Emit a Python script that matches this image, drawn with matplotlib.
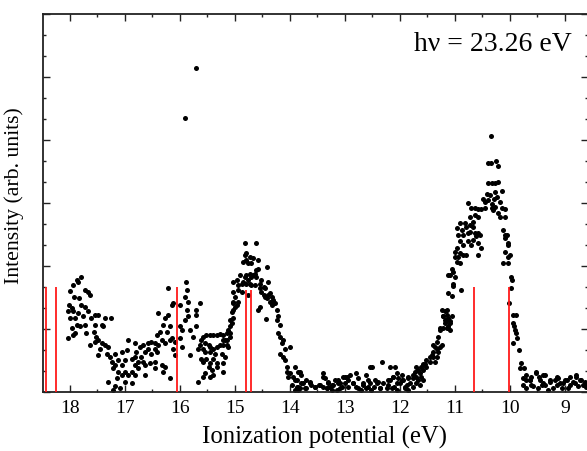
#!/usr/bin/env python3
"""Photoelectron spectrum at hv = 23.26 eV with calculated line positions."""

import matplotlib

matplotlib.use("Agg")
import matplotlib.pyplot as plt
import numpy as np
from matplotlib.ticker import MultipleLocator

# --- measured points, read off the spectrum, grouped by energy band ---
# 18.1 - 16.0 eV
ip_a = [17.79, 17.88, 17.85, 17.94, 18.00, 17.72, 17.67, 17.64, 17.92, 17.84,
        18.02, 17.97, 17.79, 17.73, 18.03, 17.94, 17.85, 17.67, 17.55, 17.49,
        18.00, 17.90, 17.76, 17.61, 17.88, 17.82, 17.97, 17.72, 17.55, 17.42,
        17.36, 17.25, 17.39, 18.03, 17.91, 17.94, 17.70, 17.56, 17.52, 17.49,
        17.64, 17.55, 17.42, 17.36, 17.30, 17.45, 17.33, 17.49, 17.27, 17.18,
        17.06, 16.94, 16.82, 16.97, 16.79, 16.73, 16.67, 16.58, 16.52, 16.46,
        16.33, 16.27, 16.18, 16.39, 16.64, 16.52, 16.42, 16.70, 16.82, 16.88,
        17.00, 17.12, 17.24, 17.18, 17.06, 17.21, 17.12, 17.00, 16.88, 16.76,
        16.64, 16.55, 16.46, 16.33, 16.27, 16.94, 16.82, 17.06, 17.15, 17.30,
        17.00, 16.88, 17.18, 17.21, 17.09, 16.64, 16.46, 16.30, 16.18, 16.39,
        16.27, 16.21, 16.15, 16.12, 16.21, 16.30, 16.18, 16.36, 16.42, 16.24,
        16.15, 16.09, 16.09, 16.12, 16.46, 16.58, 16.76, 16.82, 16.67]
int_a = [1.83, 1.78, 1.74, 1.70, 1.60, 1.62, 1.59, 1.54, 1.51, 1.49,
         1.38, 1.34, 1.38, 1.35, 1.28, 1.28, 1.25, 1.28, 1.22, 1.22,
         1.17, 1.17, 1.20, 1.17, 1.06, 1.04, 1.01, 1.06, 1.06, 1.06,
         1.17, 1.17, 1.04, 0.85, 0.93, 0.90, 0.93, 0.96, 0.88, 0.83,
         0.75, 0.80, 0.77, 0.75, 0.72, 0.69, 0.61, 0.59, 0.56, 0.61,
         0.64, 0.83, 0.77, 0.67, 0.64, 0.72, 0.75, 0.77, 0.80, 0.77,
         0.83, 0.77, 0.83, 0.75, 0.64, 0.61, 0.63, 0.56, 0.56, 0.53,
         0.51, 0.51, 0.48, 0.43, 0.43, 0.38, 0.32, 0.32, 0.32, 0.38,
         0.43, 0.46, 0.48, 0.43, 0.40, 0.27, 0.27, 0.27, 0.22, 0.16,
         0.16, 0.14, 0.09, 0.03, 0.06, 0.27, 0.38, 0.32, 0.22, 1.25,
         1.17, 1.22, 1.38, 1.41, 1.65, 1.06, 1.04, 0.96, 0.90, 0.96,
         0.85, 0.80, 0.59, 0.69, 0.69, 0.69, 0.48, 0.43, 0.48]

# 16.0 - 13.8 eV (second band, incl. the two spikes near 15.8 eV)
ip_b = [15.89, 15.88, 15.91, 15.85, 16.00, 15.88, 15.85, 15.91, 16.00, 15.97,
        15.82, 15.76, 16.00, 15.97, 15.82, 15.70, 15.64, 15.70, 15.70, 15.90,
        15.71,
        15.58, 15.52, 15.45, 15.39, 15.33, 15.27, 15.21, 15.61, 15.64, 15.55,
        15.48, 15.67, 15.58, 15.45, 15.39, 15.33, 15.27, 15.21, 15.15, 15.55,
        15.45, 15.36, 15.24, 15.18, 15.61, 15.52, 15.39, 15.58, 15.45, 15.33,
        15.21, 15.48, 15.33, 15.42, 15.55, 15.39, 15.58, 15.45, 15.67, 15.21,
        15.12, 15.09, 15.15, 15.12, 15.09, 15.06, 15.09, 15.03, 15.03, 15.00,
        14.97, 14.94, 15.03, 15.06, 15.18, 15.15,
        15.03, 14.97, 14.91, 14.94, 14.88, 14.85, 14.82, 14.79, 14.76, 14.73,
        14.70, 14.67, 14.64, 14.61, 14.58, 14.61, 14.79, 14.73, 14.70, 14.64,
        14.55, 14.52, 14.48, 14.45, 14.39, 14.42, 14.85, 14.79, 14.76, 14.73,
        14.70, 14.67, 14.58, 14.82, 14.79, 14.81, 14.62, 14.94, 14.88, 14.76,
        14.55, 14.52, 14.48, 14.45, 14.42, 14.39, 14.36, 14.33, 14.30, 14.36,
        14.33, 14.27, 14.24, 14.58, 14.55, 14.44, 14.21, 14.24, 14.18, 14.21,
        14.18, 14.12, 14.15, 14.09, 14.18, 14.12, 14.09, 14.00, 14.06, 14.06,
        14.00, 14.03, 13.94, 13.91, 13.97, 13.88, 13.85, 13.91, 13.85, 15.03,
        15.00, 15.03, 15.09, 15.21]
int_b = [1.75, 1.62, 1.51, 1.43, 1.38, 1.30, 1.20, 1.14, 1.04, 0.98,
         0.98, 0.88, 0.85, 0.72, 0.59, 1.30, 1.41, 1.22, 1.04, 4.35,
         5.14,
         0.88, 0.90, 0.90, 0.90, 0.90, 0.92, 0.90, 0.83, 0.75, 0.77,
         0.75, 0.69, 0.69, 0.72, 0.69, 0.72, 0.75, 0.75, 0.83, 0.64,
         0.64, 0.61, 0.61, 0.56, 0.53, 0.53, 0.53, 0.48, 0.46, 0.46,
         0.46, 0.40, 0.40, 0.35, 0.30, 0.27, 0.24, 0.24, 0.16, 0.32,
         0.72, 0.88, 0.93, 0.98, 1.04, 1.09, 1.14, 1.17, 1.30, 1.35,
         1.38, 1.43, 1.43, 1.27, 0.83, 0.75,
         1.75, 1.78, 1.86, 1.70, 1.72, 1.75, 1.83, 1.86, 1.78, 1.88,
         1.83, 1.86, 1.88, 1.94, 1.96, 1.83, 1.72, 1.72, 1.70, 1.70,
         1.72, 1.78, 1.67, 1.65, 1.75, 1.99, 2.07, 2.10, 2.04, 2.15,
         2.04, 2.12, 2.10, 2.17, 2.20, 2.37, 2.37, 1.62, 1.59, 1.54,
         1.65, 1.59, 1.54, 1.51, 1.49, 1.54, 1.57, 1.51, 1.46, 1.43,
         1.38, 1.41, 1.30, 1.30, 1.35, 1.16, 1.20, 1.14, 1.06, 0.93,
         0.88, 0.83, 0.77, 0.69, 0.61, 0.56, 0.51, 0.72, 0.40, 0.32,
         0.30, 0.24, 0.24, 0.19, 0.11, 0.08, 0.03, 0.40, 0.32, 1.59,
         1.51, 1.41, 0.93, 0.83]

# 13.9 - 11.7 eV (flat background)
ip_c = [13.82, 13.88, 13.79, 13.70, 13.64, 13.61, 13.73, 13.55, 13.45, 13.39,
        13.36, 13.30, 13.24, 13.33, 13.18, 13.12, 13.06, 13.00, 12.94, 12.91,
        12.85, 12.79, 12.76, 12.67, 12.61, 12.58, 12.51, 12.42, 12.36, 12.21,
        12.12, 12.06, 11.97, 11.91, 11.85, 11.76, 11.70, 11.58, 11.64,
        11.94, 11.85, 11.85, 11.91, 12.00, 12.03, 12.06, 11.97, 12.12, 12.18,
        12.11, 12.06, 12.15, 12.21, 12.30, 12.24, 12.39, 12.36, 12.48, 12.45,
        12.55, 12.52, 12.58, 12.61, 12.67, 12.70, 12.76, 12.79, 12.85, 12.94,
        13.00, 13.03, 12.97, 13.09, 13.09, 13.15, 13.21, 13.27, 13.24, 13.33,
        13.39, 13.39, 13.48, 13.55, 13.64, 13.70, 13.76, 13.82, 13.85, 13.91,
        13.79, 13.30, 13.12, 12.33, 12.18, 12.09, 12.55]
int_c = [0.31, 0.19, 0.14, 0.19, 0.16, 0.11, 0.06, 0.08, 0.11, 0.30,
         0.22, 0.16, 0.11, 0.06, 0.19, 0.14, 0.08, 0.24, 0.19, 0.27,
         0.14, 0.30, 0.22, 0.11, 0.27, 0.19, 0.40, 0.14, 0.06, 0.19,
         0.24, 0.14, 0.19, 0.08, 0.22, 0.27, 0.40, 0.45, 0.11,
         0.19, 0.24, 0.03, 0.06, 0.14, 0.22, 0.30, 0.27, 0.24, 0.19,
         0.08, 0.03, 0.06, 0.11, 0.14, 0.06, 0.16, 0.06, 0.08, 0.19,
         0.14, 0.03, 0.08, 0.06, 0.14, 0.03, 0.06, 0.08, 0.14, 0.08,
         0.14, 0.24, 0.24, 0.14, 0.06, 0.03, 0.11, 0.08, 0.03, 0.06,
         0.08, 0.24, 0.11, 0.08, 0.14, 0.06, 0.14, 0.06, 0.08, 0.03,
         0.27, 0.14, 0.19, 0.48, 0.40, 0.40, 0.40]

# 11.8 - 9.8 eV (first band)
ip_d = [11.24, 11.21, 11.18, 11.15, 11.12, 11.12, 11.09, 11.09, 11.15, 11.21,
        11.27, 11.30, 11.33, 11.39, 11.33, 11.36, 11.27, 11.24, 11.30, 11.39,
        11.42, 11.45, 11.39, 11.33, 11.36, 11.45, 11.52, 11.55, 11.61, 11.52,
        11.58, 11.67, 11.73, 11.64, 11.70, 11.61, 11.76, 11.67, 11.58, 11.70,
        11.82, 11.76, 11.88,
        10.73, 10.64, 10.58, 10.67, 10.73, 10.82, 10.91, 10.97, 10.88, 10.79,
        10.67, 10.76, 10.73, 10.64, 10.58, 10.85, 10.94, 10.91, 10.76, 10.67,
        10.61, 10.55, 10.58, 10.70, 10.52, 10.85, 10.97, 11.00, 10.91, 10.85,
        10.79, 10.94, 11.00, 10.97, 10.91, 11.06, 11.03, 11.09, 11.12, 11.00,
        11.03, 11.03, 10.89, 11.12, 11.06, 11.15, 11.18, 11.21, 11.15, 11.06,
        11.09, 11.18, 11.12, 11.27, 10.58,
        10.35, 10.39, 10.35, 10.26, 10.21, 10.39, 10.33, 10.27, 10.22, 10.42,
        10.37, 10.27, 10.15, 10.24, 10.29, 10.49, 10.45, 10.39, 10.33, 10.27,
        10.18, 10.76, 10.70, 10.64, 10.58, 10.52, 10.45, 10.33, 10.30, 10.15,
        10.09, 10.21, 10.18, 10.09,
        10.13, 10.09, 10.05, 10.09, 10.03, 10.03, 10.09, 10.00, 10.03, 10.12,
        10.03, 9.98, 9.97, 9.98, 10.01, 9.94, 9.89, 9.94, 9.92, 9.91,
        9.89, 9.88, 9.95, 9.83, 9.79, 9.82, 9.75]
int_d = [1.30, 1.20, 1.14, 1.22, 1.17, 1.04, 1.09, 0.98, 1.01, 1.01,
         0.98, 0.88, 0.80, 0.75, 0.69, 0.72, 0.72, 0.75, 0.64, 0.64,
         0.59, 0.56, 0.56, 0.56, 0.48, 0.48, 0.51, 0.45, 0.40, 0.40,
         0.35, 0.35, 0.32, 0.30, 0.24, 0.24, 0.22, 0.19, 0.19, 0.14,
         0.14, 0.08, 0.11,
         2.78, 2.81, 2.78, 2.70, 2.65, 2.68, 2.68, 2.60, 2.57, 2.62,
         2.62, 2.52, 2.54, 2.52, 2.52, 2.49, 2.49, 2.39, 2.39, 2.41,
         2.47, 2.49, 2.36, 2.33, 2.28, 2.33, 2.28, 2.23, 2.20, 2.17,
         2.17, 2.15, 2.15, 2.07, 2.04, 1.96, 1.91, 1.86, 1.85, 1.83,
         1.72, 1.69, 1.62, 1.57, 1.52, 1.30, 1.29, 1.20, 1.15, 1.20,
         1.12, 1.09, 1.01, 1.01, 2.17,
         4.06, 3.63, 3.63, 3.66, 3.58, 3.32, 3.31, 3.32, 3.33, 3.15,
         3.13, 3.18, 3.19, 3.10, 3.07, 3.07, 3.02, 3.05, 2.99, 2.94,
         3.02, 3.00, 2.92, 2.92, 2.90, 2.90, 2.92, 2.92, 2.89, 2.92,
         2.90, 2.84, 2.78, 2.77,
         2.57, 2.49, 2.49, 2.44, 2.36, 2.33, 2.23, 2.17, 2.15, 2.05,
         2.05, 1.83, 1.78, 1.65, 1.42, 1.22, 1.23, 1.09, 1.04, 0.98,
         0.93, 0.85, 0.77, 0.66, 0.46, 0.38, 0.38]

# 9.8 - 8.6 eV (tail)
ip_e = [9.76, 9.70, 9.64, 9.52, 9.48, 9.39, 9.36, 9.27, 9.15, 9.09,
        9.00, 8.91, 8.82, 8.79, 8.70, 8.64,
        9.70, 9.61, 9.52, 9.61, 9.76, 9.70, 9.58, 9.45, 9.39, 9.36,
        9.27, 9.21, 9.12, 9.15, 9.03, 8.97, 8.91, 8.85, 8.79, 8.73,
        8.67, 8.64, 8.61, 9.30, 9.49, 9.06, 8.94, 8.76, 9.64, 9.42,
        9.18]
int_e = [0.22, 0.27, 0.19, 0.32, 0.24, 0.14, 0.27, 0.19, 0.24, 0.14,
         0.19, 0.24, 0.14, 0.27, 0.19, 0.11,
         0.19, 0.24, 0.30, 0.11, 0.11, 0.06, 0.09, 0.19, 0.27, 0.11,
         0.16, 0.06, 0.22, 0.11, 0.14, 0.19, 0.11, 0.16, 0.24, 0.19,
         0.11, 0.16, 0.08, 0.03, 0.06, 0.06, 0.06, 0.09, 0.19, 0.11,
         0.19]

# calculated ionization energies (red sticks) and their heights
stick_ip = [18.43, 18.25, 16.06, 14.79, 14.71, 10.65, 10.01]
stick_height = [1.67, 1.67, 1.67, 1.62, 1.62, 1.66, 1.66]

PHOTON_LABEL = "hν = 23.26 eV"

plt.rcParams["font.family"] = ["Liberation Serif", "DejaVu Serif"]

ip = np.concatenate([ip_a, ip_b, ip_c, ip_d, ip_e])
intensity = np.concatenate([int_a, int_b, int_c, int_d, int_e])

fig = plt.figure(figsize=(5.87, 4.51), dpi=100)
ax = fig.add_axes([43 / 587, 59 / 451, 545 / 587, 378 / 451])

ax.scatter(ip, intensity, s=13, color="black", linewidths=0, zorder=2)
ax.vlines(stick_ip, 0, stick_height, color="#ff1a1a", linewidth=1.3, zorder=3)

ax.set_xlim(18.49, 8.58)
ax.set_ylim(0, 6)

ax.xaxis.set_major_locator(MultipleLocator(1))
ax.xaxis.set_minor_locator(MultipleLocator(0.5))
ax.yaxis.set_major_locator(MultipleLocator(1))
ax.yaxis.set_minor_locator(MultipleLocator(1 / 3))
ax.tick_params(which="both", direction="in", top=True, right=True, width=1.0,
               color="#222222")
ax.tick_params(which="major", length=5.0, labelsize=14, pad=6)
ax.tick_params(which="minor", length=2.5)
ax.tick_params(axis="y", labelleft=False)
for spine in ax.spines.values():
    spine.set_linewidth(1.3)
    spine.set_color("#222222")

ax.set_xlabel("Ionization potential (eV)", fontsize=17.8)
ax.xaxis.set_label_coords(0.517, -0.09)
ax.set_ylabel("Intensity (arb. units)", fontsize=15.7)
ax.yaxis.set_label_coords(-0.035, 0.519)

ax.text(0.9706, 0.918, PHOTON_LABEL, transform=ax.transAxes, fontsize=20,
        ha="right", va="center")

fig.savefig("out.png", dpi=100)
